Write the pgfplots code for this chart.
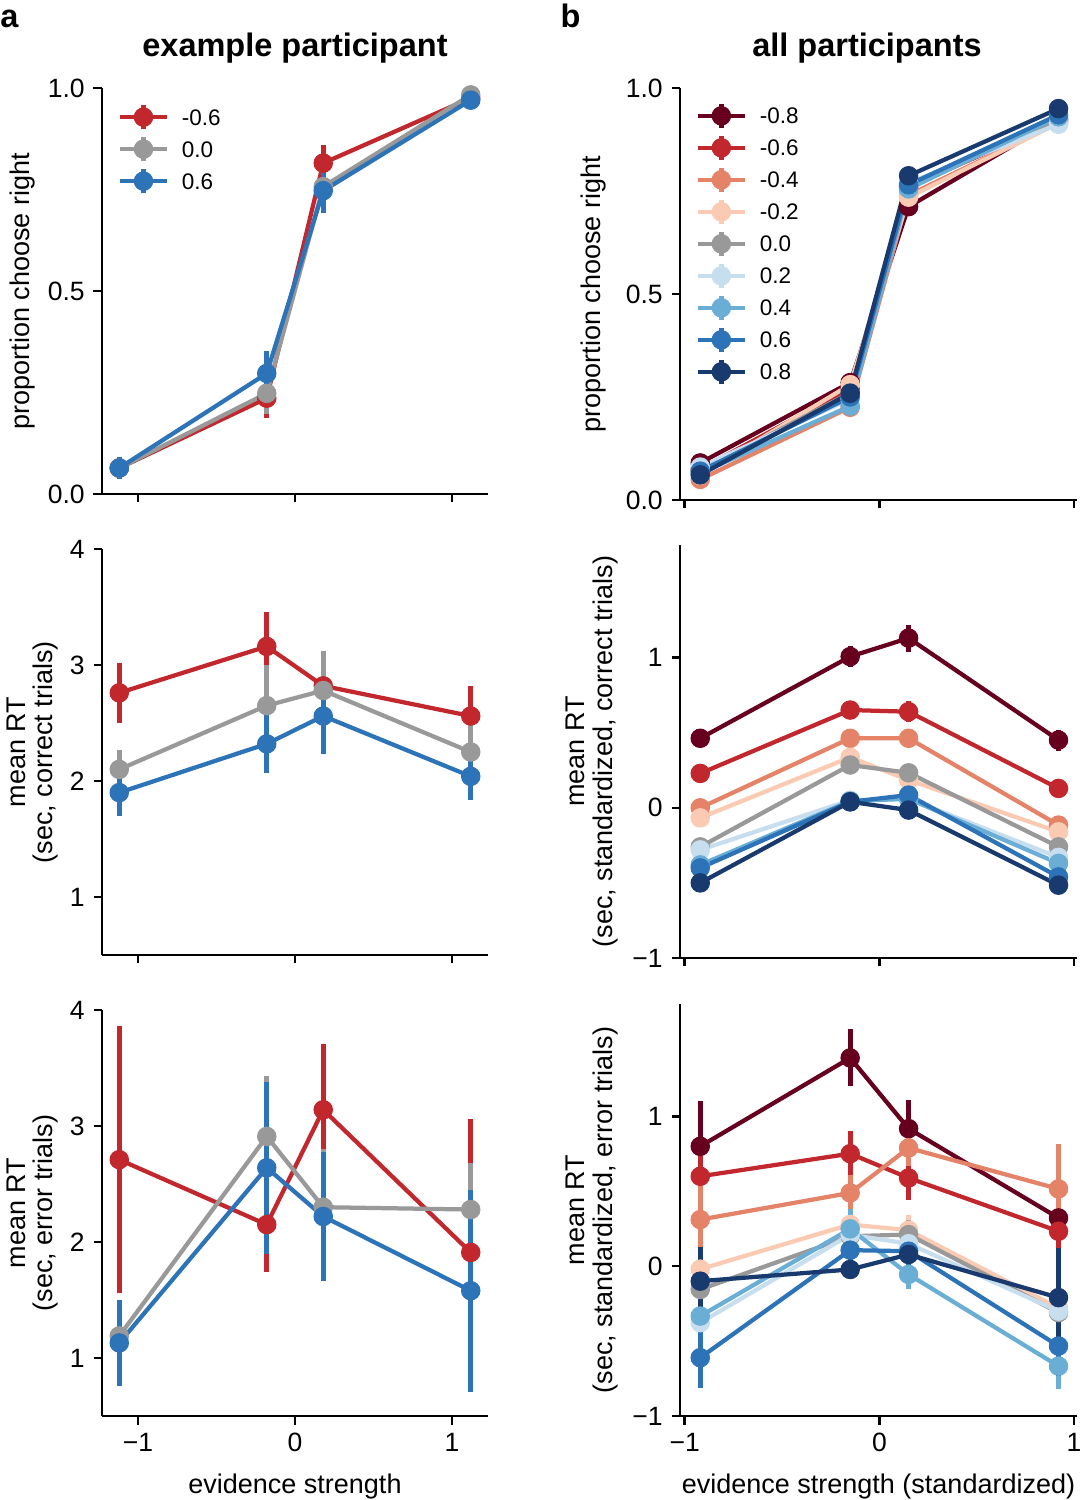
\documentclass[border=0pt]{standalone}
\usepackage{pgfplots}
\pgfplotsset{compat=1.18}
\usepackage{fontspec}
\setmainfont{Liberation Sans}

\definecolor{cA}{HTML}{67001F}
\definecolor{cB}{HTML}{C1272D}
\definecolor{cC}{HTML}{E58368}
\definecolor{cD}{HTML}{FACAB2}
\definecolor{cE}{HTML}{999999}
\definecolor{cF}{HTML}{C7DEEF}
\definecolor{cG}{HTML}{6AAED6}
\definecolor{cH}{HTML}{2C73B7}
\definecolor{cI}{HTML}{193A6E}

\pgfplotsset{
  ser/.style={color=#1, line width=1.7pt, mark=*, mark size=3.7pt,
    mark options={solid, line width=0.4pt, fill=#1, draw=#1},
    error bars/.cd, y dir=both, y explicit, error mark=none,
    error bar style={line width=2pt, color=#1, solid}},
  base/.style={
    scale only axis, axis lines=left, axis line style={-, line width=1pt},
    tick align=outside, major tick length=3.4pt,
    tick style={line width=1pt, black},
    ticklabel style={font=\fontsize{10.6}{12}\selectfont},
    label style={font=\fontsize{10.8}{11}\selectfont, align=center},
    clip=false, anchor=south west,
    legend image code/.code={
      \begin{scope}[overlay]
      \draw[##1, mark=none] (0pt,0pt) -- (18.8pt,0pt);
      \draw[##1, mark=none, line width=2pt] (9.4pt,-4.8pt) -- (9.4pt,4.8pt);
      \draw[##1, mark repeat=2, mark phase=2] plot coordinates {(0pt,0pt) (9.4pt,0pt) (18.8pt,0pt)};
      \end{scope}
      \path[draw=none, fill=none] (0pt,-3pt) rectangle (18.8pt,3pt);
    },
    legend cell align=left,
  },
  lcol/.style={base, width=154.4pt, height=162.4pt, xmin=-1.23, xmax=1.23,
    xtick={-1,0,1}},
  rcol/.style={base, width=158.8pt, xmin=-1.024, xmax=1.015,
    xtick={-1,0,1}},
  leg/.style={legend style={draw=none, fill=none, inner sep=0pt, outer sep=0pt,
    row sep=6.35pt, column sep=6pt,
    nodes={inner sep=0pt, text height=6.45pt, text depth=0pt, font=\fontsize{9}{10}\selectfont},
    at={(axis description cs:#1)}, anchor=north west}},
}

\begin{document}
\begin{tikzpicture}
\path[use as bounding box] (0,0) rectangle (433.6pt,600pt);

\node[anchor=base west, inner sep=0pt, font=\fontsize{13}{14}\selectfont\bfseries] at (0pt,588.8pt) {a};
\node[anchor=base west, inner sep=0pt, font=\fontsize{13}{14}\selectfont\bfseries] at (224pt,588.8pt) {b};
\node[anchor=base, inner sep=0pt, font=\fontsize{13}{14}\selectfont\bfseries] at (118pt,577.2pt) {example participant};
\node[anchor=base, inner sep=0pt, font=\fontsize{13}{14}\selectfont\bfseries] at (346.8pt,577.2pt) {all participants};

% ---------------- left top
\begin{axis}[lcol, at={(40.8pt,402.4pt)}, ymin=0, ymax=1,
  ytick={0,0.5,1}, yticklabels={0.0,0.5,1.0}, xticklabels={},
  ylabel={proportion choose right},
  ylabel style={at={(axis description cs:-0.205,0.5)}, anchor=center},
  leg={0.0466,0.948}, legend entries={-0.6,0.0,0.6}]
\addplot[ser=cB] coordinates {(-1.12,0.064) +- (0,0.027) (-0.18,0.236) +- (0,0.05) (0.18,0.815) +- (0,0.045) (1.12,0.975) +- (0,0.01)};
\addplot[ser=cE] coordinates {(-1.12,0.064) +- (0,0.027) (-0.18,0.248) +- (0,0.05) (0.18,0.757) +- (0,0.05) (1.12,0.983) +- (0,0.01)};
\addplot[ser=cH] coordinates {(-1.12,0.064) +- (0,0.027) (-0.18,0.297) +- (0,0.056) (0.18,0.747) +- (0,0.055) (1.12,0.970) +- (0,0.01)};
\end{axis}

% ---------------- left middle
\begin{axis}[lcol, at={(40.8pt,218pt)}, ymin=0.5, ymax=4,
  ytick={1,2,3,4}, yticklabels={1,2,3,4}, xticklabels={},
  ylabel={mean RT\\(sec, correct trials)},
  ylabel style={at={(axis description cs:-0.18,0.5)}, anchor=center}]
\addplot[ser=cB] coordinates {(-1.12,2.76) +- (0,0.26) (-0.18,3.16) +- (0,0.3) (0.18,2.82) +- (0,0.12) (1.12,2.56) +- (0,0.26)};
\addplot[ser=cE] coordinates {(-1.12,2.10) +- (0,0.17) (-0.18,2.65) +- (0,0.35) (0.18,2.78) +- (0,0.34) (1.12,2.25) +- (0,0.25)};
\addplot[ser=cH] coordinates {(-1.12,1.90) +- (0,0.2) (-0.18,2.32) +- (0,0.25) (0.18,2.56) +- (0,0.33) (1.12,2.04) +- (0,0.2)};
\end{axis}

% ---------------- left bottom
\begin{axis}[lcol, at={(40.8pt,33.6pt)}, ymin=0.5, ymax=4,
  ytick={1,2,3,4}, yticklabels={1,2,3,4}, xticklabels={−1,0,1},
  ylabel={mean RT\\(sec, error trials)},
  ylabel style={at={(axis description cs:-0.18,0.5)}, anchor=center},
  xlabel={evidence strength},
  xlabel style={at={(axis description cs:0.5,-0.1737)}, anchor=center}]
\addplot[ser=cB] coordinates {(-1.12,2.71) +- (0,1.15) (-0.18,2.15) +- (0,0.41) (0.18,3.14) +- (0,0.57) (1.12,1.91) +- (0,1.15)};
\addplot[ser=cE] coordinates {(-1.12,1.19) +- (0,0.3) (-0.18,2.91) +- (0,0.52) (0.18,2.30) +- (0,0.5) (1.12,2.28) +- (0,0.4)};
\addplot[ser=cH] coordinates {(-1.12,1.13) +- (0,0.37) (-0.18,2.64) +- (0,0.74) (0.18,2.22) +- (0,0.56) (1.12,1.58) +- (0,0.87)};
\end{axis}

% ---------------- right top
\begin{axis}[rcol, height=164.8pt, at={(272pt,400pt)}, ymin=0, ymax=1,
  ytick={0,0.5,1}, yticklabels={0.0,0.5,1.0}, xticklabels={},
  ylabel={proportion choose right},
  ylabel style={at={(axis description cs:-0.217,0.5)}, anchor=center},
  leg={0.045,0.952}, legend entries={-0.8,-0.6,-0.4,-0.2,0.0,0.2,0.4,0.6,0.8}]
\addplot[ser=cA] coordinates {(-0.92,0.090) +- (0,0.015) (-0.15,0.285) +- (0,0.015) (0.15,0.712) +- (0,0.015) (0.92,0.925) +- (0,0.01)};
\addplot[ser=cB] coordinates {(-0.92,0.075) +- (0,0.015) (-0.15,0.270) +- (0,0.015) (0.15,0.760) +- (0,0.015) (0.92,0.920) +- (0,0.01)};
\addplot[ser=cC] coordinates {(-0.92,0.050) +- (0,0.015) (-0.15,0.225) +- (0,0.015) (0.15,0.740) +- (0,0.015) (0.92,0.915) +- (0,0.01)};
\addplot[ser=cD] coordinates {(-0.92,0.060) +- (0,0.015) (-0.15,0.280) +- (0,0.015) (0.15,0.735) +- (0,0.015) (0.92,0.915) +- (0,0.01)};
\addplot[ser=cE] coordinates {(-0.92,0.070) +- (0,0.015) (-0.15,0.260) +- (0,0.015) (0.15,0.760) +- (0,0.015) (0.92,0.925) +- (0,0.01)};
\addplot[ser=cF] coordinates {(-0.92,0.080) +- (0,0.015) (-0.15,0.245) +- (0,0.015) (0.15,0.770) +- (0,0.015) (0.92,0.912) +- (0,0.01)};
\addplot[ser=cG] coordinates {(-0.92,0.065) +- (0,0.015) (-0.15,0.228) +- (0,0.015) (0.15,0.755) +- (0,0.015) (0.92,0.930) +- (0,0.01)};
\addplot[ser=cH] coordinates {(-0.92,0.070) +- (0,0.015) (-0.15,0.250) +- (0,0.015) (0.15,0.765) +- (0,0.015) (0.92,0.935) +- (0,0.01)};
\addplot[ser=cI] coordinates {(-0.92,0.061) +- (0,0.015) (-0.15,0.259) +- (0,0.015) (0.15,0.787) +- (0,0.015) (0.92,0.950) +- (0,0.01)};
\end{axis}

% ---------------- right middle
\begin{axis}[rcol, height=165.2pt, at={(272pt,216.8pt)}, ymin=-1, ymax=1.75,
  ytick={-1,0,1}, yticklabels={−1,0,1}, xticklabels={},
  ylabel={mean RT\\(sec, standardized, correct trials)},
  ylabel style={at={(axis description cs:-0.222,0.5)}, anchor=center}]
\addplot[ser=cA] coordinates {(-0.92,0.463) +- (0,0.05) (-0.15,1.007) +- (0,0.07) (0.15,1.13) +- (0,0.09) (0.92,0.451) +- (0,0.07)};
\addplot[ser=cB] coordinates {(-0.92,0.229) +- (0,0.06) (-0.15,0.651) +- (0,0.06) (0.15,0.64) +- (0,0.07) (0.92,0.129) +- (0,0.04)};
\addplot[ser=cC] coordinates {(-0.92,0.0) +- (0,0.04) (-0.15,0.463) +- (0,0.05) (0.15,0.463) +- (0,0.04) (0.92,-0.115) +- (0,0.04)};
\addplot[ser=cD] coordinates {(-0.92,-0.067) +- (0,0.04) (-0.15,0.336) +- (0,0.04) (0.15,0.185) +- (0,0.04) (0.92,-0.16) +- (0,0.04)};
\addplot[ser=cE] coordinates {(-0.92,-0.26) +- (0,0.04) (-0.15,0.285) +- (0,0.04) (0.15,0.233) +- (0,0.04) (0.92,-0.26) +- (0,0.04)};
\addplot[ser=cF] coordinates {(-0.92,-0.28) +- (0,0.04) (-0.15,0.05) +- (0,0.03) (0.15,0.06) +- (0,0.03) (0.92,-0.33) +- (0,0.04)};
\addplot[ser=cG] coordinates {(-0.92,-0.38) +- (0,0.04) (-0.15,0.045) +- (0,0.03) (0.15,0.06) +- (0,0.03) (0.92,-0.37) +- (0,0.04)};
\addplot[ser=cH] coordinates {(-0.92,-0.40) +- (0,0.04) (-0.15,0.04) +- (0,0.03) (0.15,0.085) +- (0,0.03) (0.92,-0.46) +- (0,0.04)};
\addplot[ser=cI] coordinates {(-0.92,-0.50) +- (0,0.04) (-0.15,0.04) +- (0,0.03) (0.15,-0.015) +- (0,0.03) (0.92,-0.515) +- (0,0.04)};
\end{axis}

% ---------------- right bottom
\begin{axis}[rcol, height=164.8pt, at={(272pt,33.6pt)}, ymin=-1, ymax=1.75,
  ytick={-1,0,1}, yticklabels={−1,0,1}, xticklabels={−1,0,1},
  ylabel={mean RT\\(sec, standardized, error trials)},
  ylabel style={at={(axis description cs:-0.222,0.5)}, anchor=center},
  xlabel={evidence strength (standardized)},
  xlabel style={at={(axis description cs:0.5,-0.172)}, anchor=center}]
\addplot[ser=cA] coordinates {(-0.92,0.80) +- (0,0.3) (-0.15,1.39) +- (0,0.19) (0.15,0.918) +- (0,0.19) (0.92,0.322) +- (0,0.1)};
\addplot[ser=cB] coordinates {(-0.92,0.60) +- (0,0.2) (-0.15,0.751) +- (0,0.15) (0.15,0.589) +- (0,0.15) (0.92,0.233) +- (0,0.12)};
\addplot[ser=cC] coordinates {(-0.92,0.311) +- (0,0.3) (-0.15,0.489) +- (0,0.12) (0.15,0.789) +- (0,0.12) (0.92,0.516) +- (0,0.3)};
\addplot[ser=cD] coordinates {(-0.92,-0.02) +- (0,0.15) (-0.15,0.278) +- (0,0.1) (0.15,0.24) +- (0,0.1) (0.92,-0.28) +- (0,0.1)};
\addplot[ser=cE] coordinates {(-0.92,-0.155) +- (0,0.15) (-0.15,0.2) +- (0,0.1) (0.15,0.211) +- (0,0.1) (0.92,-0.31) +- (0,0.1)};
\addplot[ser=cF] coordinates {(-0.92,-0.377) +- (0,0.15) (-0.15,0.21) +- (0,0.1) (0.15,0.15) +- (0,0.1) (0.92,-0.30) +- (0,0.1)};
\addplot[ser=cG] coordinates {(-0.92,-0.333) +- (0,0.15) (-0.15,0.249) +- (0,0.13) (0.15,-0.055) +- (0,0.1) (0.92,-0.667) +- (0,0.15)};
\addplot[ser=cH] coordinates {(-0.92,-0.611) +- (0,0.2) (-0.15,0.107) +- (0,0.1) (0.15,0.10) +- (0,0.1) (0.92,-0.533) +- (0,0.2)};
\addplot[ser=cI] coordinates {(-0.92,-0.10) +- (0,0.23) (-0.15,-0.022) +- (0,0.05) (0.15,0.078) +- (0,0.05) (0.92,-0.21) +- (0,0.33)};
\end{axis}
\end{tikzpicture}
\end{document}
